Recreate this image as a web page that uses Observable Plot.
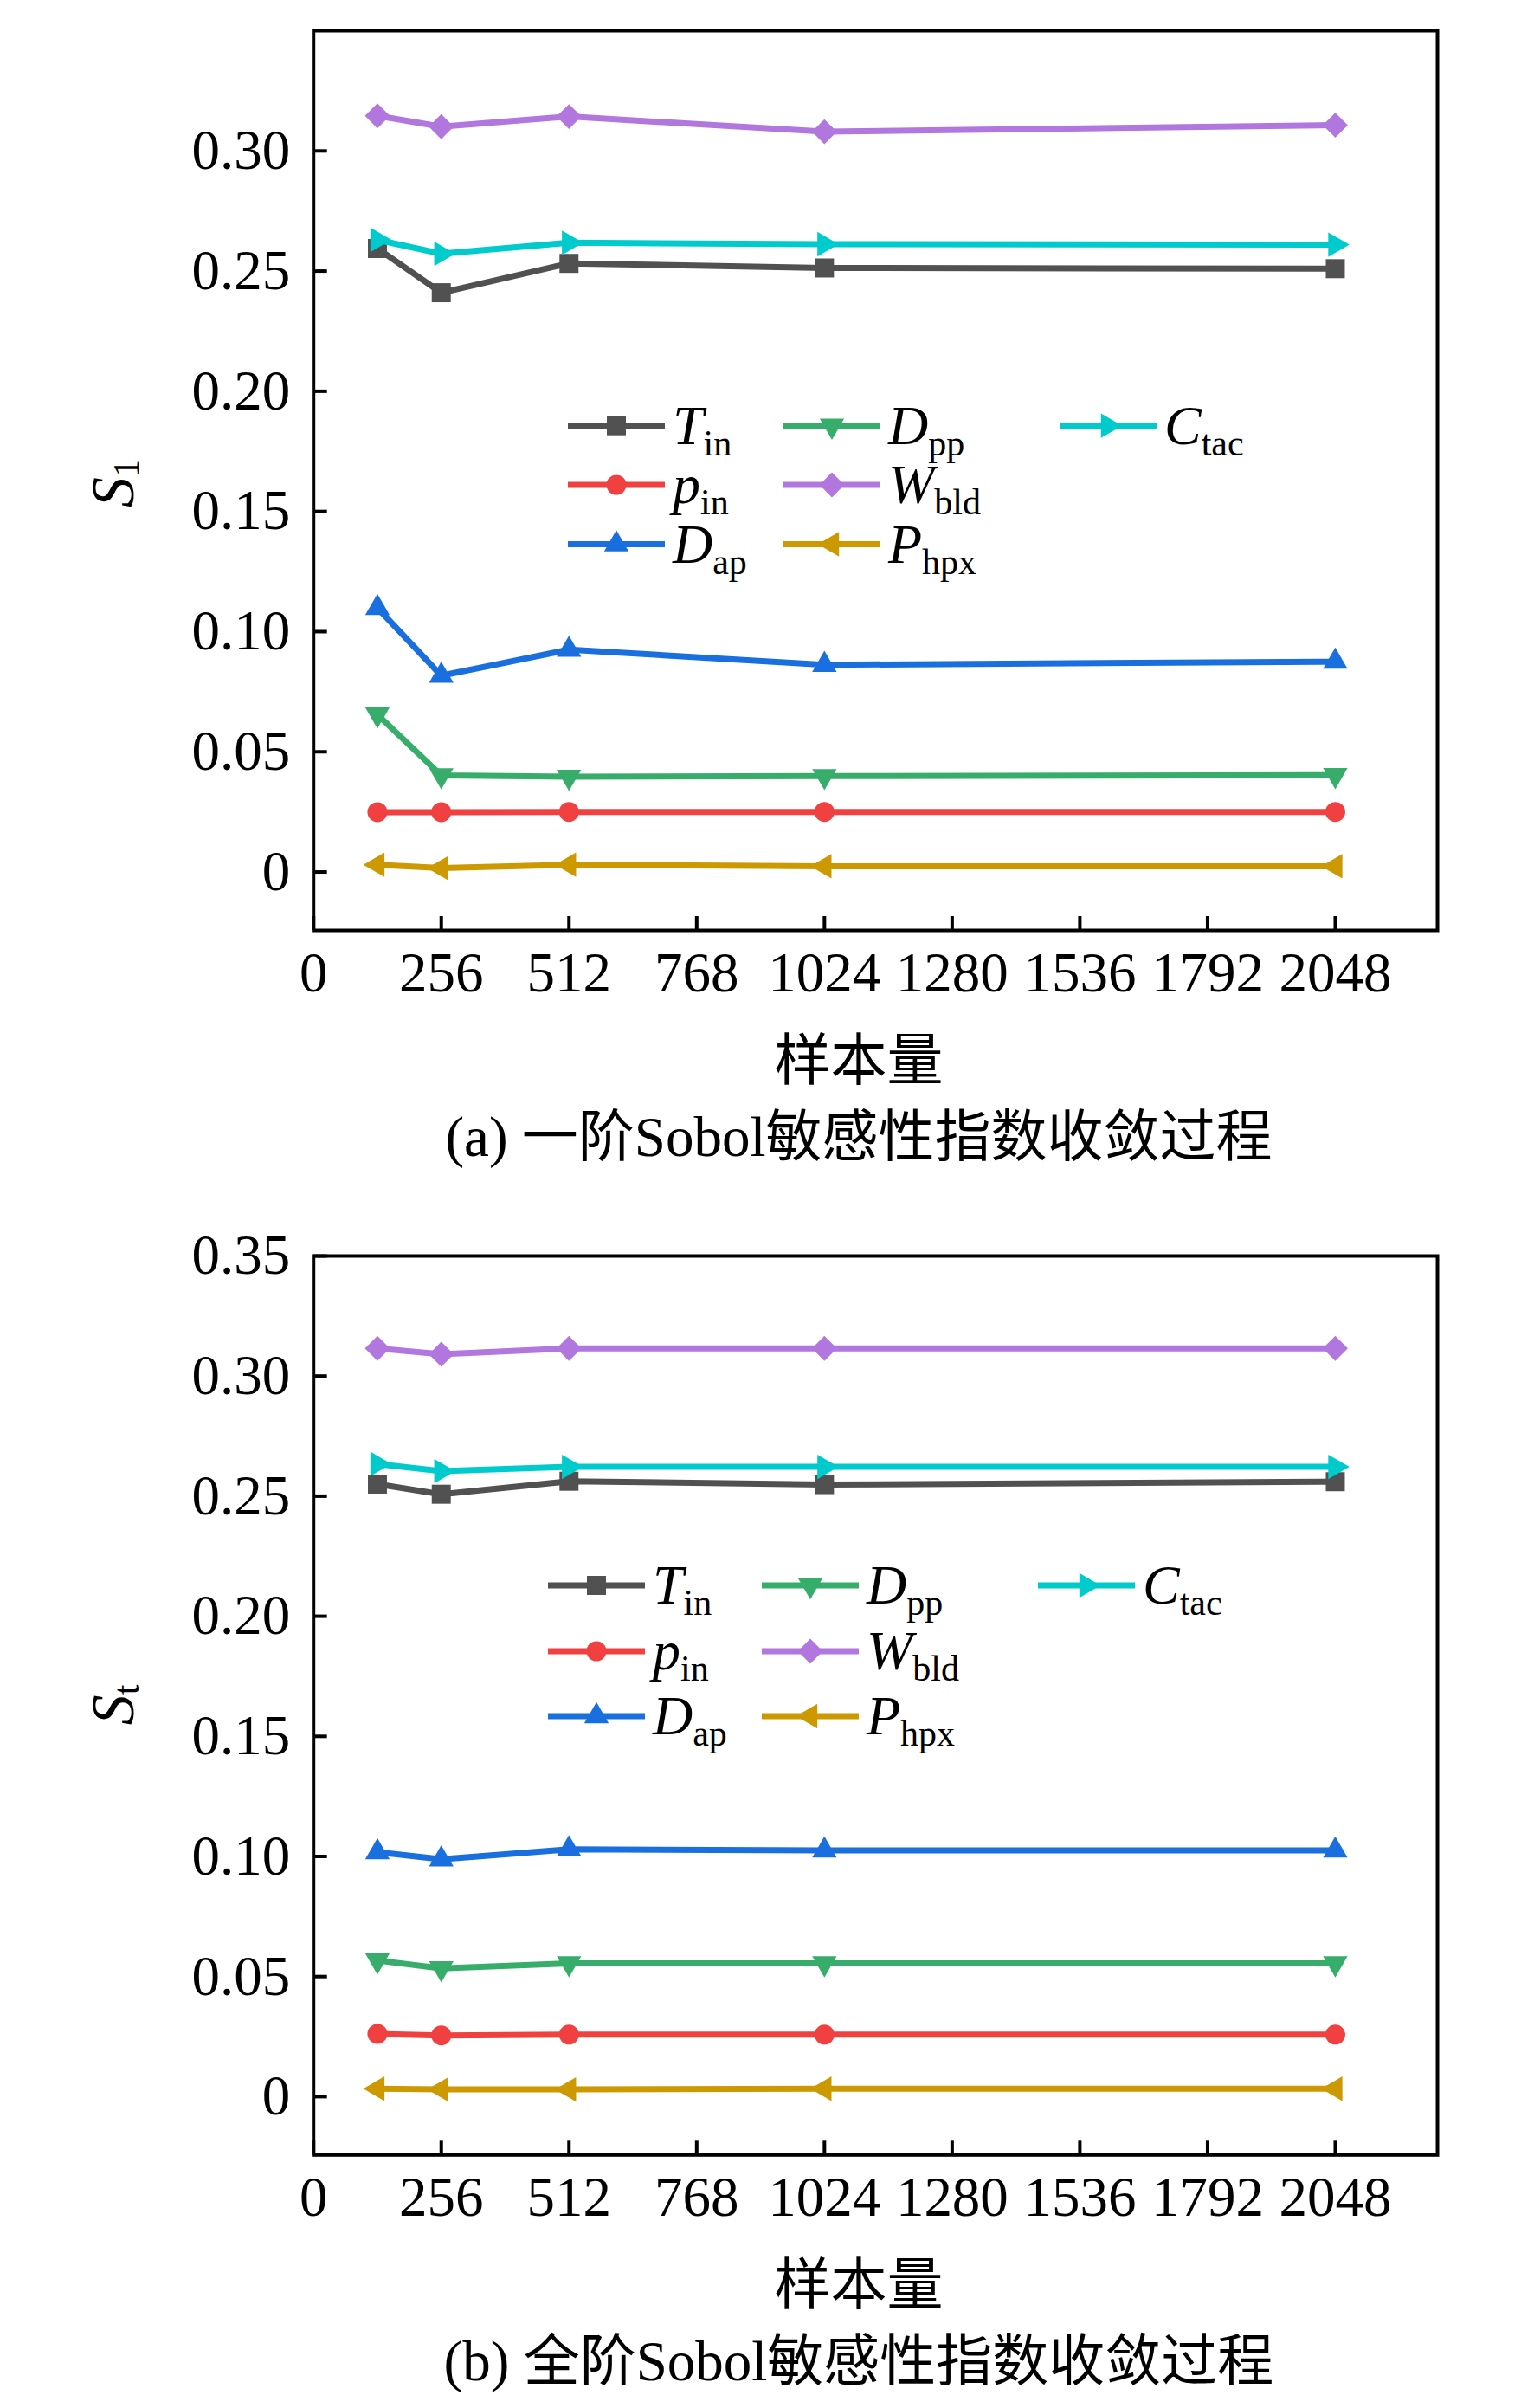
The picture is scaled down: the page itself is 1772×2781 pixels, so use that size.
<!DOCTYPE html>
<html><head><meta charset="utf-8">
<script src="https://cdn.jsdelivr.net/npm/d3@7"></script>
<script src="https://cdn.jsdelivr.net/npm/@observablehq/plot@0.6"></script>
<style>
html,body{margin:0;padding:0;background:#fff;}
#wrap{position:relative;width:1772px;height:2781px;overflow:hidden;background:#fff;}
.panel{position:absolute;left:0;}
#overlay{position:absolute;left:0;top:0;pointer-events:none;}
</style>
</head><body>
<div id="wrap"></div>
<script>
// ---------- data ----------
const sampleSizes = [128, 256, 512, 1024, 2048];
const xTicks = [0, 256, 512, 768, 1024, 1280, 1536, 1792, 2048];
const yTicksA = [0, 0.05, 0.10, 0.15, 0.20, 0.25, 0.30];
const yTicksB = [0, 0.05, 0.10, 0.15, 0.20, 0.25, 0.30, 0.35];
const seriesKeys = ["Tin", "pin", "Dap", "Dpp", "Wbld", "Phpx", "Ctac"];
const seriesMain = ["T", "p", "D", "D", "W", "P", "C"];
const seriesSub = ["in", "in", "ap", "pp", "bld", "hpx", "tac"];
const seriesColors = ["#515151", "#F14040", "#1A6FDF", "#37AD6B", "#B177DE", "#CC9900", "#00CBCC"];
const seriesSymbols = ["square", "circle", "triangle", "triangle", "diamond2", "triangle", "triangle"];
const seriesRotate = [0, 0, 0, 180, 0, -90, 90];
const seriesR = [12.4, 11.5, 10.5, 10.5, 13, 10.5, 10.5];

// (a) first-order index S1
const s1Tin  = [0.2594, 0.2410, 0.2532, 0.2513, 0.2510];
const s1Pin  = [0.0249, 0.0249, 0.0250, 0.0250, 0.0250];
const s1Dap  = [0.1099, 0.0817, 0.0925, 0.0862, 0.0875];
const s1Dpp  = [0.0655, 0.0402, 0.0396, 0.0399, 0.0403];
const s1Wbld = [0.3146, 0.3101, 0.3143, 0.3080, 0.3107];
const s1Phpx = [0.0030, 0.0016, 0.0030, 0.0024, 0.0024];
const s1Ctac = [0.2630, 0.2572, 0.2618, 0.2612, 0.2610];

// (b) total-order index St
const stTin  = [0.2550, 0.2508, 0.2562, 0.2548, 0.2560];
const stPin  = [0.0261, 0.0255, 0.0258, 0.0258, 0.0258];
const stDap  = [0.1018, 0.0988, 0.1030, 0.1025, 0.1025];
const stDpp  = [0.0567, 0.0534, 0.0555, 0.0555, 0.0555];
const stWbld = [0.3115, 0.3091, 0.3115, 0.3115, 0.3115];
const stPhpx = [0.0033, 0.0030, 0.0030, 0.0033, 0.0033];
const stCtac = [0.2634, 0.2604, 0.2622, 0.2622, 0.2622];

const seriesA = [s1Tin, s1Pin, s1Dap, s1Dpp, s1Wbld, s1Phpx, s1Ctac];
const seriesB = [stTin, stPin, stDap, stDpp, stWbld, stPhpx, stCtac];

// ---------- layout ----------
const W = 1772;
const serif = '"Liberation Serif", "Times New Roman", serif';
const cjk = '"Liberation Serif", "Times New Roman", "Noto Sans CJK SC", serif';
const frameLeft = 361.7, frameRight = 1660;
const fmtY = d => d === 0 ? "0" : d.toFixed(2);

function makePanel(seriesVals, yTicks, top, height, marginTop, marginBottom) {
  const frameW = frameRight - frameLeft;
  const frameH = height - marginTop - marginBottom;
  const marks = [];
  seriesVals.forEach((vals, i) => {
    const rows = sampleSizes.map((n, j) => ({n, v: vals[j]}));
    marks.push(Plot.line(rows, {x: "n", y: "v", stroke: seriesColors[i], strokeWidth: 7, strokeLinejoin: "round"}));
    marks.push(Plot.dot(rows, {x: "n", y: "v", symbol: seriesSymbols[i], rotate: seriesRotate[i], fill: seriesColors[i], stroke: "none", r: seriesR[i]}));
  });
  marks.push(Plot.tickX(xTicks, {x: d => d, stroke: "black", strokeWidth: 4, insetTop: frameH - 16}));
  marks.push(Plot.tickY(yTicks, {y: d => d, stroke: "black", strokeWidth: 4, insetRight: frameW - 16}));
  marks.push(Plot.axisX(xTicks, {tickSize: 0, tickPadding: 24, fontSize: 65, tickFormat: d => String(d), label: null}));
  marks.push(Plot.axisY(yTicks, {tickSize: 0, tickPadding: 27, fontSize: 65, tickFormat: fmtY, label: null}));
  marks.push(Plot.frame({stroke: "black", strokeWidth: 4}));
  const chart = Plot.plot({
    width: W, height,
    marginLeft: frameLeft, marginRight: W - frameRight, marginTop, marginBottom,
    x: {domain: [0, 2252.8]},
    y: {domain: [-0.0243, 0.35]},
    style: {fontFamily: serif, fontSize: "65px", background: "transparent", color: "black", overflow: "visible"},
    marks
  });
  chart.classList.add("panel");
  chart.style.top = top + "px";
  document.getElementById("wrap").appendChild(chart);
}

makePanel(seriesA, yTicksA, 0, 1174, 35, 100);
makePanel(seriesB, yTicksB, 1380, 1208.3, 70, 100);

// ---------- overlay texts and legends ----------
const ov = d3.select("#wrap").append("svg").attr("id", "overlay")
  .attr("width", W).attr("height", 2781).attr("viewBox", `0 0 ${W} 2781`);

function yLabel(cx, cy, sub) {
  const t = ov.append("text").attr("transform", `translate(${cx},${cy}) rotate(-90)`)
    .attr("text-anchor", "middle").attr("font-family", serif).attr("font-size", 70).attr("fill", "black");
  t.append("tspan").attr("font-style", "italic").text("S");
  t.append("tspan").attr("font-size", 42).attr("dy", 6).text(sub);
}
yLabel(154, 558, "1");
yLabel(154, 1969, "t");

function centerText(x, y, size, str) {
  ov.append("text").attr("x", x).attr("y", y).attr("text-anchor", "middle")
    .attr("font-family", cjk).attr("font-size", size).attr("fill", "black").text(str);
}
centerText(992, 1247, 65, "样本量");
centerText(992, 1335, 65, "(a) 一阶Sobol敏感性指数收敛过程");
centerText(992, 2661, 65, "样本量");
centerText(992, 2749, 65, "(b) 全阶Sobol敏感性指数收敛过程");

const symbolTypes = {square: d3.symbolSquare, circle: d3.symbolCircle, triangle: d3.symbolTriangle, diamond2: d3.symbolDiamond2};
function legend(colX, rowsY) {
  const lineLen = 112;
  seriesKeys.forEach((k, i) => {
    const col = Math.floor(i / 3), row = i % 3;
    const x1 = colX[col], y = rowsY[row];
    const g = ov.append("g");
    g.append("line").attr("x1", x1).attr("x2", x1 + lineLen).attr("y1", y).attr("y2", y)
      .attr("stroke", seriesColors[i]).attr("stroke-width", 7);
    const size = Math.PI * seriesR[i] * seriesR[i];
    g.append("path").attr("d", d3.symbol(symbolTypes[seriesSymbols[i]], size)())
      .attr("transform", `translate(${x1 + lineLen / 2},${y}) rotate(${seriesRotate[i]})`)
      .attr("fill", seriesColors[i]);
    const t = g.append("text").attr("x", x1 + lineLen + 9).attr("y", y + 21)
      .attr("font-family", serif).attr("font-size", 64).attr("fill", "black");
    t.append("tspan").attr("font-style", "italic").text(seriesMain[i]);
    t.append("tspan").attr("font-size", 42).attr("dy", 13).text(seriesSub[i]);
  });
}
legend([656, 905, 1224], [491.7, 560, 628.5]);
legend([633, 880, 1199], [1831, 1907, 1982]);
</script>
</body></html>
